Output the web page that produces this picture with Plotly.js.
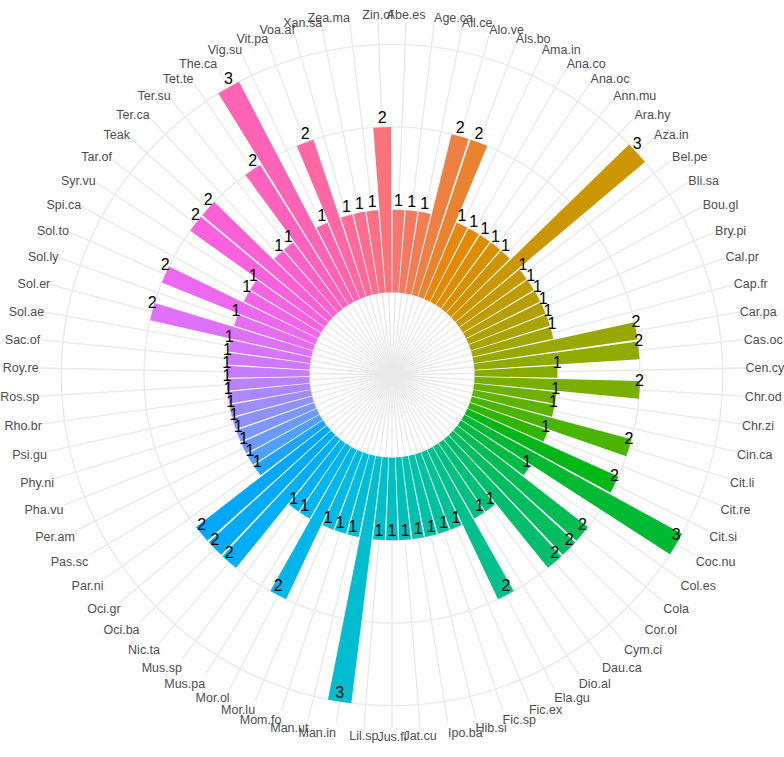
<!DOCTYPE html>
<html>
<head>
<meta charset="utf-8">
<script src="https://cdn.plot.ly/plotly-3.0.1.min.js"></script>
<style>
  html, body { margin: 0; padding: 0; background: #fff; }
  #plot { width: 784px; height: 757px; }
</style>
</head>
<body>
<div id="plot"></div>
<script>
// species codes, clockwise from the top
var species = ["Abe.es","Age.ca","All.ce","Alo.ve","Als.bo","Ama.in","Ana.co","Ana.oc","Ann.mu","Ara.hy",
  "Aza.in","Bel.pe","Bli.sa","Bou.gl","Bry.pi","Cal.pr","Cap.fr","Car.pa","Cas.oc","Cen.cy",
  "Chr.od","Chr.zi","Cin.ca","Cit.li","Cit.re","Cit.si","Coc.nu","Col.es","Cola","Cor.ol",
  "Cym.ci","Dau.ca","Dio.al","Ela.gu","Fic.ex","Fic.sp","Hib.si","Ipo.ba","Jat.cu","Jus.fl",
  "Lil.sp","Man.in","Man.ut","Mom.fo","Mor.lu","Mor.ol","Mus.pa","Mus.sp","Nic.ta","Oci.ba",
  "Oci.gr","Par.ni","Pas.sc","Per.am","Pha.vu","Phy.ni","Psi.gu","Rho.br","Ros.sp","Roy.re",
  "Sac.of","Sol.ae","Sol.er","Sol.ly","Sol.to","Spi.ca","Syr.vu","Tar.of","Teak","Ter.ca",
  "Ter.su","Tet.te","The.ca","Vig.su","Vit.pa","Voa.af","Xan.sa","Zea.ma","Zin.of"];

// counts per species
var counts = [1,1,1,2,2,1,1,1,1,1,
  3,1,1,1,1,1,1,2,2,1,
  2,1,1,2,1,2,3,1,2,2,
  2,1,1,2,1,1,1,1,1,1,
  1,3,1,1,1,2,1,1,2,2,
  2,1,1,1,1,1,1,1,1,1,
  1,1,2,1,2,1,1,2,2,1,
  1,2,3,1,2,1,1,1,2];

var n = species.length;
var step = 360 / n;
var angles = species.map((s, i) => (i + 0.5) * step);

// ggplot-like hue palette (hcl, c=100, l=65)
function hcl(h, c, l) {
  var hr = h * Math.PI / 180;
  var U = c * Math.cos(hr), V = c * Math.sin(hr);
  var Xn = 95.047, Yn = 100, Zn = 108.883;
  var Y = l > 8 ? Yn * Math.pow((l + 16) / 116, 3) : Yn * l / 903.3;
  var den = Xn + 15 * Yn + 3 * Zn;
  var un = 4 * Xn / den, vn = 9 * Yn / den;
  var u = U / (13 * l) + un, v = V / (13 * l) + vn;
  var X = Y * 9 * u / (4 * v);
  var Z = Y * (12 - 3 * u - 20 * v) / (4 * v);
  X /= 100; Y /= 100; Z /= 100;
  var rgb = [
    3.240479 * X - 1.537150 * Y - 0.498535 * Z,
    -0.969256 * X + 1.875992 * Y + 0.041556 * Z,
    0.055648 * X - 0.204043 * Y + 1.057311 * Z
  ].map(function(c) {
    c = c > 0.0031308 ? 1.055 * Math.pow(c, 1 / 2.4) - 0.055 : 12.92 * c;
    c = Math.max(0, Math.min(1, c));
    return Math.round(c * 255);
  });
  return "rgb(" + rgb.join(",") + ")";
}
var colors = species.map((s, i) => hcl((15 + i * 360 / n) % 360, 100, 65));

var bars = {
  type: "barpolar",
  r: counts,
  base: counts.map(() => 0),
  theta: angles,
  width: counts.map(() => step * 0.9),
  marker: { color: colors, line: { width: 0 } },
  hoverinfo: "skip"
};

var labels = {
  type: "scatterpolar",
  mode: "text",
  r: counts,
  theta: angles,
  text: counts.map(String),
  textposition: "top center",
  textfont: { family: "Liberation Sans, Arial, sans-serif", size: 16, color: "#000" },
  cliponaxis: false,
  hoverinfo: "skip"
};

var R = 353, cx = 392, cy = 382;
var layout = {
  width: 784,
  height: 757,
  margin: { l: 0, r: 0, t: 0, b: 0 },
  paper_bgcolor: "#fff",
  showlegend: false,
  polar: {
    domain: { x: [(cx - R) / 784, (cx + R) / 784], y: [(cy - R) / 757, (cy + R) / 757] },
    bgcolor: "#fff",
    radialaxis: {
      range: [-1, 3.27],
      tickvals: [0, 1, 2, 3],
      showticklabels: false,
      ticks: "",
      showline: false,
      gridcolor: "#e8e8e8",
      gridwidth: 1.3
    },
    angularaxis: {
      rotation: 90,
      direction: "clockwise",
      thetaunit: "degrees",
      tickvals: angles,
      ticktext: species,
      ticks: "",
      showline: false,
      gridcolor: "#e8e8e8",
      gridwidth: 1.3,
      tickfont: { family: "Liberation Sans, Arial, sans-serif", size: 12.5, color: "#4d4d4d" }
    }
  }
};

Plotly.newPlot("plot", [bars, labels], layout, { staticPlot: true });
</script>
</body>
</html>
